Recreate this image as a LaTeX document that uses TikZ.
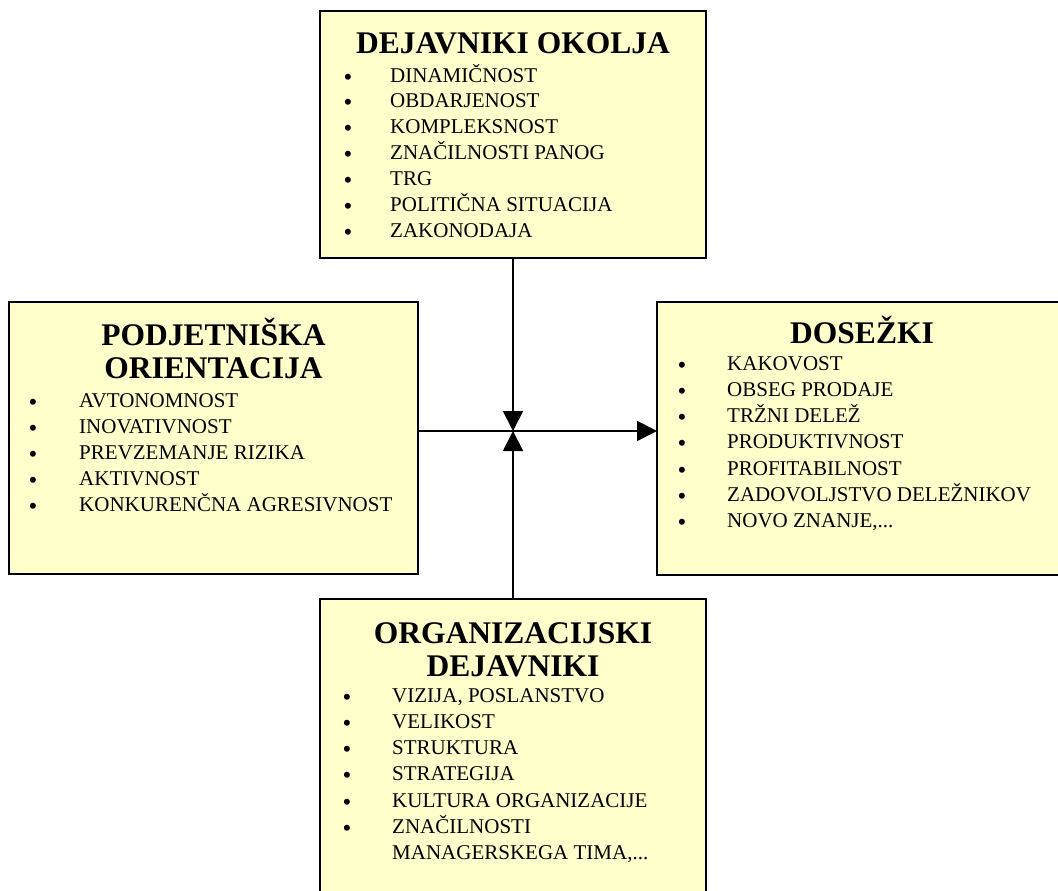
\documentclass[tikz,border=0pt]{standalone}
\usepackage{fontspec}
\setmainfont{Liberation Serif}
\usetikzlibrary{arrows.meta}
\definecolor{boxfill}{RGB}{255,255,204}
\tikzset{
  box/.style={draw=black, line width=2.4bp, fill=boxfill, anchor=north west, inner sep=0pt, outer sep=0pt},
  heading/.style={anchor=base, inner sep=0pt, font=\fontsize{31.5bp}{33bp}\selectfont\bfseries},
  item/.style={anchor=base west, inner sep=0pt, font=\fontsize{21bp}{26bp}\selectfont},
  bul/.style={anchor=base, inner sep=0pt, font=\fontsize{25bp}{26bp}\selectfont},
  conn/.style={line width=1.8bp, -{Triangle[length=20bp,width=20bp]}}
}
\begin{document}
\begin{tikzpicture}[x=1bp, y=-1bp]
\useasboundingbox (0,0) rectangle (1058,891);
\clip (0,0) rectangle (1058,891);

% the four boxes
\node[box, minimum width=386bp, minimum height=247bp] (env) at (320,11) {};
\node[box, minimum width=409bp, minimum height=272bp] (ent) at (9,302) {};
\node[box, minimum width=411bp, minimum height=273bp] (res) at (657,302) {};
\node[box, minimum width=386bp, minimum height=310bp] (org) at (320,599) {};

% connectors meeting in the middle
\coordinate (hub) at (513,431);
\draw[conn] (hub |- env.south) -- (hub);
\draw[conn] (hub |- org.north) -- (hub);
\draw[conn] (hub -| ent.east) -- (hub -| res.west);

% environment factors
\node[heading] (env-t) at (513,53) {DEJAVNIKI OKOLJA};
\foreach \t [count=\i from 0] in {DINAMIČNOST, OBDARJENOST, KOMPLEKSNOST,
    ZNAČILNOSTI PANOG, TRG, POLITIČNA SITUACIJA, ZAKONODAJA} {
  \node[bul] (env-b\i) at (348, 85+25.9*\i) {\textbullet};
  \node[item] (env-i\i) at (390, 82+25.9*\i) {\t};
}

% entrepreneurial orientation
\node[heading] (ent-t1) at (213.5,345) {PODJETNIŠKA};
\node[heading] (ent-t2) at (213.5,378) {ORIENTACIJA};
\foreach \t [count=\i from 0] in {AVTONOMNOST, INOVATIVNOST, PREVZEMANJE RIZIKA,
    AKTIVNOST, KONKURENČNA AGRESIVNOST} {
  \node[bul] (ent-b\i) at (33, 410+26.2*\i) {\textbullet};
  \node[item] (ent-i\i) at (79, 407+26.2*\i) {\t};
}

% outcomes
\node[heading] (res-t) at (862,343) {DOSEŽKI};
\foreach \t [count=\i from 0] in {KAKOVOST, OBSEG PRODAJE, TRŽNI DELEŽ,
    PRODUKTIVNOST, PROFITABILNOST, ZADOVOLJSTVO DELEŽNIKOV} {
  \node[bul] (res-b\i) at (682, 373+26.3*\i) {\textbullet};
  \node[item] (res-i\i) at (727, 370+26.3*\i) {\t};
}
\node[bul] (res-b6) at (682, 373+26.3*6) {\textbullet};
\node[item] (res-i6) at (727, 370+26.3*6) {NOVO ZNANJE,...};

% organisational factors
\node[heading] (org-t1) at (513,643) {ORGANIZACIJSKI};
\node[heading] (org-t2) at (513,676) {DEJAVNIKI};
\foreach \t [count=\i from 0] in {{VIZIJA, POSLANSTVO}, VELIKOST, STRUKTURA,
    STRATEGIJA, KULTURA ORGANIZACIJE, ZNAČILNOSTI} {
  \node[bul] (org-b\i) at (347, 705+26.3*\i) {\textbullet};
  \node[item] (org-i\i) at (392, 702+26.3*\i) {\t};
}
\node[item] (org-i6) at (392, 702+26.3*6) {MANAGERSKEGA TIMA,...};
\end{tikzpicture}
\end{document}
